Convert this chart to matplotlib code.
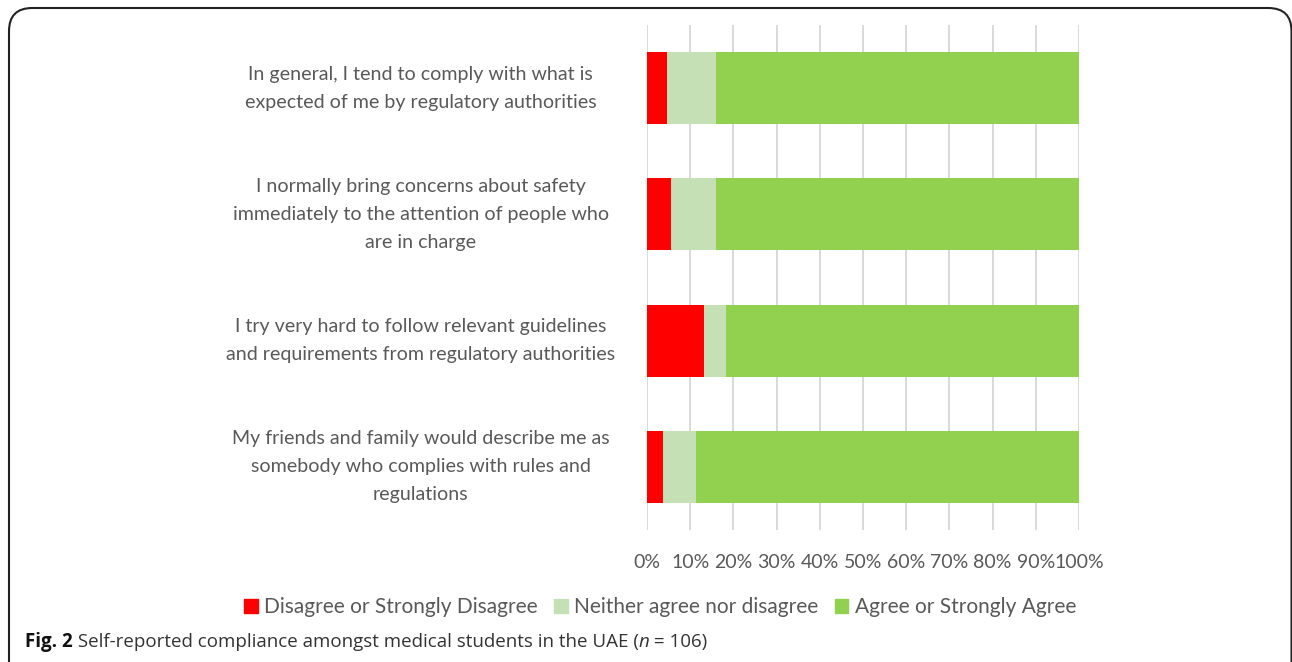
import matplotlib.pyplot as plt
import matplotlib.patches as mpatches
from matplotlib.patches import FancyBboxPatch
import numpy as np

W, H = 1292, 662

STATEMENTS = [
    "In general, I tend to comply with what is\nexpected of me by regulatory authorities",
    "I normally bring concerns about safety\nimmediately to the attention of people who\nare in charge",
    "I try very hard to follow relevant guidelines\nand requirements from regulatory authorities",
    "My friends and family would describe me as\nsomebody who complies with rules and\nregulations",
]
DISAGREE = [4.7, 5.6, 13.2, 3.7]
NEITHER = [11.3, 10.4, 5.0, 7.6]
AGREE = [100 - d - n for d, n in zip(DISAGREE, NEITHER)]
SERIES = ["Disagree or Strongly Disagree", "Neither agree nor disagree", "Agree or Strongly Agree"]
COLORS = ["#FF0000", "#C5E0B4", "#92D050"]
XTICKS = [0, 10, 20, 30, 40, 50, 60, 70, 80, 90, 100]

GREY = "#595959"
FONT = "Lato"

fig = plt.figure(figsize=(W / 100, H / 100), dpi=100)
ax = fig.add_axes([647 / W, 1 - 530 / H, 432 / W, 505 / H])

y = np.arange(len(STATEMENTS))
left = np.zeros(len(STATEMENTS))
for vals, col, lab in zip([DISAGREE, NEITHER, AGREE], COLORS, SERIES):
    ax.barh(y, vals, left=left, height=0.57, color=col, label=lab, zorder=3)
    left += np.array(vals)

ax.set_xlim(0, 100)
ax.set_ylim(len(STATEMENTS) - 0.5, -0.5)
ax.set_xticks(XTICKS)
ax.set_xticklabels([f"{t}%" for t in XTICKS], fontsize=14, color=GREY, family=FONT)
ax.set_yticks(y)
ax.set_yticklabels(STATEMENTS, fontsize=14.1, color=GREY, family=FONT,
                   ha="center", va="center", linespacing=1.78)
ax.tick_params(axis="y", length=0, pad=163)
ax.tick_params(axis="x", length=0, pad=17)
ax.grid(axis="x", color="#D9D9D9", linewidth=1.4, zorder=0)
for s in ax.spines.values():
    s.set_visible(False)

handles = [mpatches.Patch(color=c, label=l) for c, l in zip(COLORS, SERIES)]
leg = fig.legend(handles=handles, loc="center", bbox_to_anchor=(660 / W, 1 - 607 / H),
                 ncol=3, frameon=False, handlelength=0.65, handleheight=0.65,
                 handletextpad=0.3, columnspacing=0.8,
                 prop={"family": FONT, "size": 15})
for t in leg.get_texts():
    t.set_color(GREY)

# rounded frame, open at the bottom
frame = FancyBboxPatch((0, 0), 1, 1, boxstyle="round,pad=0,rounding_size=0.018",
                       transform=fig.transFigure, fill=False, edgecolor="#222222",
                       linewidth=1.5, mutation_aspect=W / H)
frame.set_bounds(9 / W, -0.1, (1291.5 - 9) / W, 1.1 - 8 / H)
fig.patches.append(frame)

# caption
r = fig.canvas.get_renderer()
cy = 1 - 642 / H
x = 25 / W
pieces = [("Fig. 2", "bold", "normal", "#111111"),
          (" Self-reported compliance amongst medical students in the UAE (", "normal", "normal", "#333333"),
          ("n", "normal", "italic", "#333333"),
          (" = 106)", "normal", "normal", "#333333")]
for txt, wt, st, col in pieces:
    t = fig.text(x, cy, txt, fontsize=13.5, fontweight=wt, fontstyle=st,
                 family="Open Sans", color=col, va="center", ha="left")
    x += t.get_window_extent(r).width / W

fig.savefig("out.png", dpi=100)
